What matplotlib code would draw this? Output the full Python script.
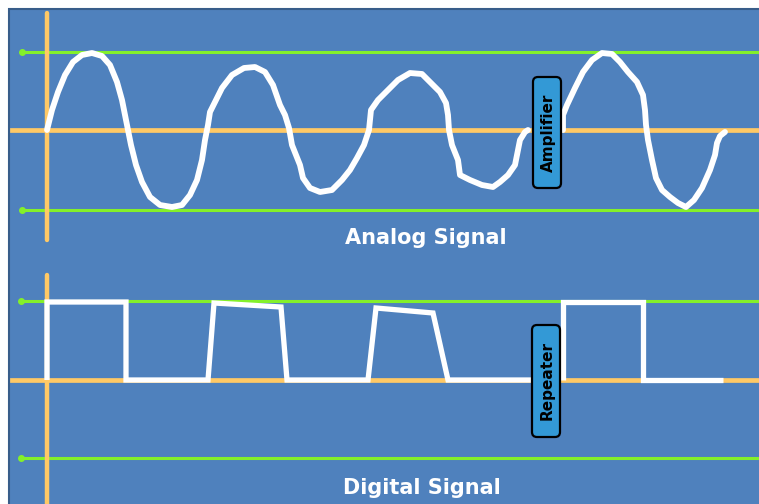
import matplotlib
matplotlib.use("Agg")
import matplotlib.pyplot as plt
from matplotlib.patches import Rectangle, FancyBboxPatch

# diagram drawn in pixel units (x right, y down)
W, H = 759, 504

# analog wave, hand traced
analog_x1 = [47, 52, 58, 65, 73, 82, 92, 102, 110, 117, 122, 127, 131, 136, 142, 150, 160, 172, 182, 190,
             197, 202, 205, 208, 210, 215, 222, 232, 244, 255, 265, 273, 280, 285, 289, 292, 296, 300, 303,
             310, 320, 332, 342, 350, 357, 364, 369, 371, 378, 388, 398, 410, 422, 430, 440, 446, 448, 449,
             452, 458, 460, 470, 482, 493, 500, 508, 515, 518, 520, 525, 528]
analog_y1 = [130, 110, 92, 75, 62, 55, 53, 56, 65, 82, 100, 125, 145, 165, 182, 197, 205, 207, 205, 195,
             180, 160, 140, 125, 112, 102, 88, 75, 68, 67, 72, 85, 105, 115, 128, 145, 155, 165, 178,
             188, 192, 190, 180, 170, 158, 145, 130, 110, 100, 90, 80, 73, 74, 82, 92, 103, 115, 130,
             145, 160, 175, 180, 185, 187, 182, 175, 165, 150, 140, 132, 130]
analog_x2 = [563, 563, 567, 575, 583, 592, 602, 612, 620, 628, 637, 643, 645, 646, 648, 652, 656, 662, 670,
             678, 686, 694, 702, 710, 715, 717, 720, 725]
analog_y2 = [130, 115, 105, 88, 72, 60, 53, 54, 62, 72, 82, 95, 110, 125, 140, 160, 178, 190, 197,
             203, 207, 200, 188, 170, 155, 143, 136, 132]

# digital wave corners
digital_x1 = [47, 47, 126, 126, 208, 214, 281, 287, 368, 376, 433, 448, 531]
digital_y1 = [380, 302, 302, 380, 380, 303, 307, 380, 380, 308, 313, 380, 380]
digital_x2 = [563, 563, 643, 643, 723]
digital_y2 = [380, 302, 302, 380, 380]

# reference lines: (y, x_start)
green_lines = [(52, 22), (210, 22), (301, 21), (458, 21)]
orange_h = [(130, 12), (380, 12)]
orange_v = [(47, 13, 240), (47, 275, 504)]

boxes = [("Amplifier", 533, 77, 28, 111), ("Repeater", 532, 325, 28, 112)]
titles = [("Analog Signal", 426, 238), ("Digital Signal", 422, 488)]

BLUE = "#4F81BD"
ORANGE = "#FFC966"
GREEN = "#84F02A"
BOXC = "#3399D6"

fig = plt.figure(figsize=(W / 100, H / 100), dpi=100)
ax = fig.add_axes([0, 0, 1, 1])
ax.set_xlim(0, W)
ax.set_ylim(H, 0)
ax.axis("off")

ax.add_patch(Rectangle((9, 9), W, H, facecolor=BLUE, edgecolor="#385D8A", linewidth=1.5, zorder=0))

for y, x0 in green_lines:
    ax.plot([x0, W], [y, y], color=GREEN, lw=2.2, solid_capstyle="round", zorder=1)
    ax.plot([x0], [y], "o", color=GREEN, ms=4, zorder=1)
for y, x0 in orange_h:
    ax.plot([x0, W], [y, y], color=ORANGE, lw=3.4, zorder=2)
for x, y0, y1 in orange_v:
    ax.plot([x, x], [y0, y1], color=ORANGE, lw=3.2, solid_capstyle="round", zorder=2)

for xs, ys in [(analog_x1, analog_y1), (analog_x2, analog_y2)]:
    ax.plot(xs, ys, color="white", lw=4.2, solid_joinstyle="round", solid_capstyle="round", zorder=3)
for xs, ys in [(digital_x1, digital_y1), (digital_x2, digital_y2)]:
    ax.plot(xs, ys, color="white", lw=3.8, solid_joinstyle="miter", solid_capstyle="butt", zorder=3)

for label, bx, by, bw, bh in boxes:
    ax.add_patch(FancyBboxPatch((bx, by), bw, bh, boxstyle="round,pad=0,rounding_size=5",
                                facecolor=BOXC, edgecolor="black", linewidth=1.6, zorder=4))
    ax.text(bx + bw / 2 + 1, by + bh / 2, label, rotation=90, ha="center", va="center",
            fontsize=11, fontweight="bold", color="black", zorder=5)

for label, tx, ty in titles:
    ax.text(tx, ty, label, ha="center", va="center", fontsize=15, fontweight="bold", color="white", zorder=5)

plt.savefig("out.png", dpi=100)
